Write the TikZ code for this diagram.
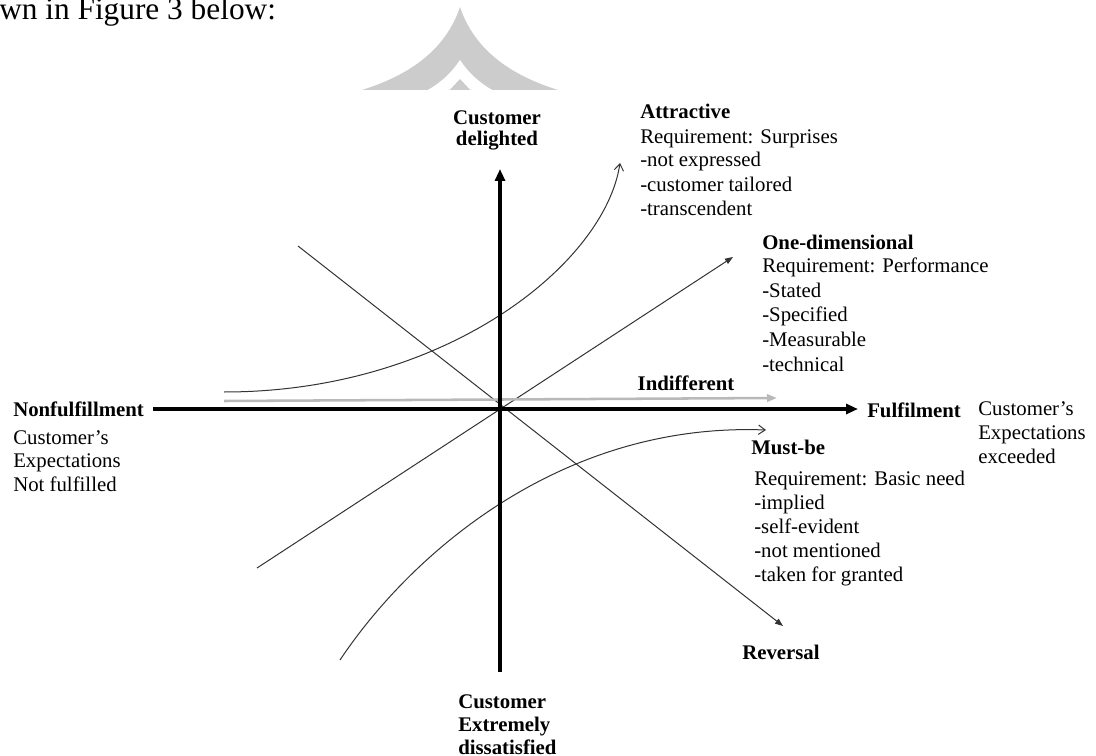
\documentclass[tikz,border=0pt]{standalone}
\usepackage{fontspec}
\setmainfont{Liberation Serif}
\usetikzlibrary{arrows.meta}
\begin{document}
\begin{tikzpicture}[x=0.75pt,y=-0.75pt,
  lbl/.style={font=\fontsize{15.6}{18}\selectfont, inner sep=0pt, align=left, anchor=base west},
  blbl/.style={lbl, font=\fontsize{15.6}{17}\selectfont\bfseries},
  axisline/.style={line width=2.5pt, draw=black, -{Triangle[length=9pt,width=7.5pt]}},
  thinline/.style={line width=0.75pt, draw=black!80},
  fillhead/.style={thinline, -{Triangle[length=6pt,width=4.5pt]}},
  openhead/.style={thinline, -{Straight Barb[length=5pt,width=7pt]}},
  indiffline/.style={line width=1.9pt, draw=gray!55, -{Triangle[length=7.5pt,width=5.5pt]}},
  wmfill/.style={fill=gray!40}
]
\useasboundingbox (0,0) rectangle (1096,756);

% watermark fragment
\begin{scope}
  \clip (0,0) rectangle (1096,90);
  \fill[wmfill] (460,7) .. controls (445,52) and (405,80) .. (344,95) -- (576,95) .. controls (515,80) and (475,52) .. cycle;
  \fill[white] (460,60) .. controls (452,72) and (440,85) .. (418,95) -- (502,95) .. controls (480,85) and (468,72) .. cycle;
  \fill[wmfill] (460,79) -- (445,95) -- (475,95) -- cycle;
\end{scope}

\node[lbl, font=\fontsize{23.5}{28}\selectfont] (intro) at (-1,20) {wn in Figure 3 below:};

% coordinates
\coordinate (O) at (500,409);
\coordinate (xl) at (153,409);
\coordinate (xr) at (858,409);
\coordinate (yb) at (500,672);
\coordinate (yt) at (500,169);
\coordinate (a0) at (224,392);
\coordinate (a1) at (620,163);
\coordinate (m0) at (340,660);
\coordinate (m1) at (766,430);
\coordinate (i0) at (224,401);
\coordinate (i1) at (777,398);
\coordinate (d0) at (257,568);
\coordinate (d1) at (733,257);
\coordinate (r0) at (298,246);
\coordinate (r1) at (783,626);

% thin lines
\draw[fillhead] (d0) -- (d1);
\draw[fillhead] (r0) -- (r1);
\draw[openhead] (a0) .. controls (447,392) and (605,263) .. (a1);
\draw[openhead] (m0) .. controls (410,555) and (560,422) .. (m1);
\draw[indiffline] (i0) -- (i1);

% axes
\draw[axisline] (xl) -- (xr);
\draw[axisline] (yb) -- (yt);

% labels (multi-line nodes: base = last line)
\node[blbl, align=center, anchor=base, font=\fontsize{15.6}{16}\selectfont\bfseries] (delight) at (497,146) {Customer\\delighted};
\node[blbl] (attr) at (640,119) {Attractive};
\node[lbl] (attrtxt) at (640,215) {Requirement: Surprises\\-not expressed\\-customer tailored\\-transcendent};
\node[blbl] (onedim) at (762,249) {One-dimensional};
\node[lbl, font=\fontsize{15.6}{18.4}\selectfont] (onedimtxt) at (762,371) {Requirement: Performance\\-Stated\\-Specified\\-Measurable\\-technical};
\node[blbl, anchor=base] (indiff) at (686,390) {Indifferent};
\node[blbl] (fulfil) at (867,417) {Fulfilment};
\node[lbl] (exceed) at (978,463) {Customer’s\\Expectations\\exceeded};
\node[blbl] (nonful) at (13,416) {Nonfulfillment};
\node[lbl, font=\fontsize{15.6}{17.5}\selectfont] (notful) at (13,491) {Customer’s\\Expectations\\Not fulfilled};
\node[blbl] (mustbe) at (751,454) {Must-be};
\node[lbl] (mustbetxt) at (754,581) {Requirement: Basic need\\-implied\\-self-evident\\-not mentioned\\-taken for granted};
\node[blbl] (rev) at (742,659) {Reversal};
\node[blbl] (dissat) at (458,754) {Customer\\Extremely\\dissatisfied};
\end{tikzpicture}
\end{document}
